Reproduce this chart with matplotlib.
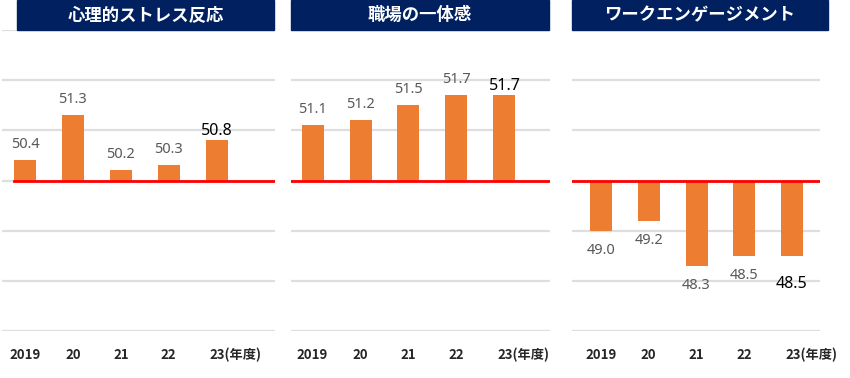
import matplotlib
matplotlib.use("Agg")
import matplotlib.pyplot as plt
from matplotlib.patches import Rectangle

plt.rcParams['font.family'] = ['Noto Sans CJK JP', 'DejaVu Sans']

# ---- data ----
categories = ["2019", "20", "21", "22", "23(年度)"]
titles = ["心理的ストレス反応", "職場の一体感", "ワークエンゲージメント"]
stress = [50.4, 51.3, 50.2, 50.3, 50.8]
unity = [51.1, 51.2, 51.5, 51.7, 51.7]
engagement = [49.0, 49.2, 48.3, 48.5, 48.5]
baseline = 50
y_min, y_max = 47, 53

series = [stress, unity, engagement]

# ---- layout (pixels) ----
W, H = 850, 378
DPI = 100
AX_TOP, AX_BOT = 30, 331
# (axes left, axes right, first bar center, spacing, red line start, title box left, title box right)
panels = [
    (2, 275, 25.0, 47.9, 14, 17, 274),
    (291, 550, 312.5, 48.0, 291, 291, 549),
    (572, 820, 601.0, 47.75, 572, 572, 828),
]

BAR_COLOR = "#ED7D31"
NAVY = "#002060"
GRID = "#dedede"

fig = plt.figure(figsize=(W / DPI, H / DPI), dpi=DPI)
px2pt = 72.0 / DPI

for vals, title, (axl, axr, c0, sp, redl, tbl, tbr) in zip(series, titles, panels):
    ax = fig.add_axes([axl / W, (H - AX_BOT) / H, (axr - axl) / W, (AX_BOT - AX_TOP) / H])
    xlo = (axl - c0) / sp
    xhi = (axr - c0) / sp
    ax.set_xlim(xlo, xhi)
    ax.set_ylim(y_min, y_max)
    x = list(range(len(vals)))
    heights = [v - baseline for v in vals]
    ax.bar(x, heights, bottom=baseline, width=22 / sp, color=BAR_COLOR, zorder=2)

    ax.set_yticks(range(y_min, y_max + 1))
    ax.yaxis.grid(True, color=GRID, lw=1.6)
    ax.set_axisbelow(True)
    ax.tick_params(left=False, bottom=False, labelleft=False, labelbottom=False)
    ax.set_xticks([])
    for s in ax.spines.values():
        s.set_visible(False)

    red_start = (redl - axl) / (axr - axl)
    ax.axhline(baseline, xmin=red_start, xmax=1, color="#ff0000", lw=2, zorder=3)

    # value labels
    n = len(vals)
    for i, v in enumerate(vals):
        last = (i == n - 1)
        color = "#000000" if last else "#595959"
        size = 11.5 if last else 10.5
        if v >= baseline:
            off = (5 if last else 12)
        else:
            off = -(32 if last else 23)
        ax.annotate(f"{v:.1f}", xy=(i, v), xytext=(0, off * px2pt), textcoords="offset points",
                    ha="center", va="baseline", fontsize=size, color=color,
                    family=['Noto Sans', 'DejaVu Sans'], zorder=4)

    # category labels
    for i, lab in enumerate(categories):
        if i == n - 1:
            ax.annotate(lab, xy=(i, 0), xycoords=("data", "axes fraction"),
                        xytext=(-7 * px2pt, -24 * px2pt), textcoords="offset points",
                        ha="left", va="center", fontsize=9.5, fontweight="bold", color="#262626")
        else:
            ax.annotate(lab, xy=(i, 0), xycoords=("data", "axes fraction"),
                        xytext=(0, -24 * px2pt), textcoords="offset points",
                        ha="center", va="center", fontsize=9.5, fontweight="bold", color="#262626")

    # title box
    fig.patches.append(Rectangle((tbl / W, (H - 30) / H), (tbr - tbl) / W, 30 / H,
                                 transform=fig.transFigure, color=NAVY, zorder=5))
    fig.text((tbl + tbr) / 2 / W, (H - 15) / H, title, ha="center", va="center",
             color="white", fontsize=12.5, fontweight="bold", zorder=6)

fig.savefig("out.png", dpi=DPI)
